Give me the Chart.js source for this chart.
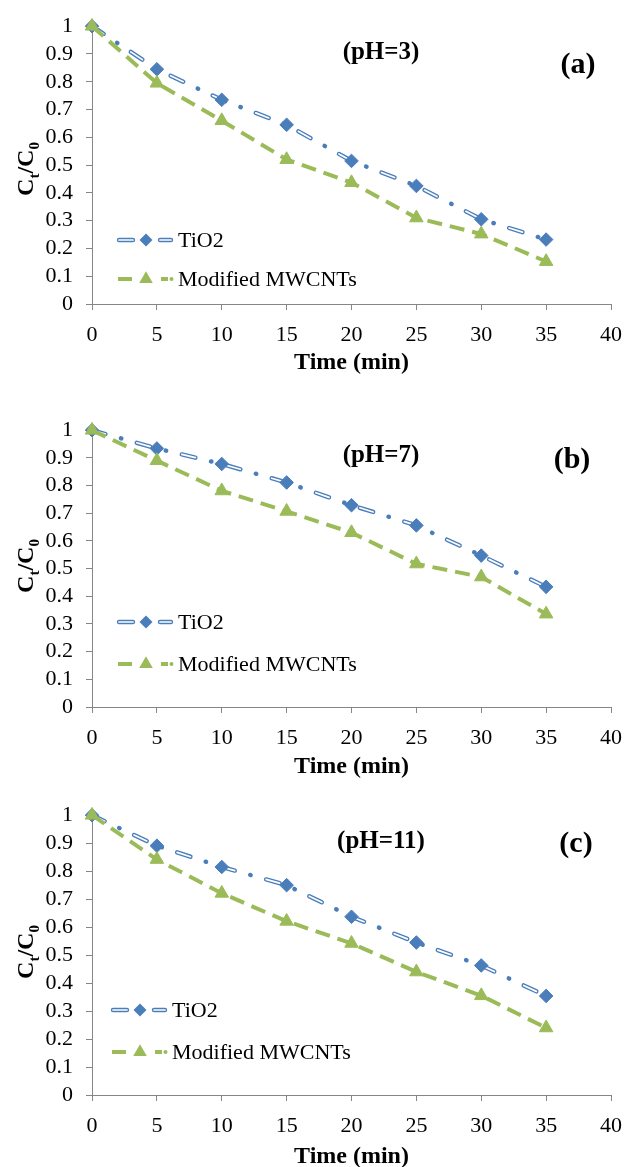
<!DOCTYPE html>
<html>
<head>
<meta charset="utf-8">
<title>Ct/C0 vs time at pH 3, 7 and 11</title>
<script src="https://cdn.jsdelivr.net/npm/chart.js@4.4.1/dist/chart.umd.min.js"></script>
<style>
  html, body { margin: 0; padding: 0; background: #fff; overflow: hidden; }
  canvas { position: absolute; left: 0; }
</style>
</head>
<body>
<canvas id="chart-a" width="634" height="390" style="top:0px"></canvas>
<canvas id="chart-b" width="634" height="390" style="top:404px"></canvas>
<canvas id="chart-c" width="634" height="395" style="top:789px"></canvas>
<script>
// Data
const times = [0, 5, 10, 15, 20, 25, 30, 35];

const tio2A = [1, 0.845, 0.735, 0.645, 0.515, 0.425, 0.305, 0.232];
const modA  = [1, 0.795, 0.66, 0.52, 0.437, 0.31, 0.252, 0.153];

const tio2B = [1, 0.934, 0.878, 0.811, 0.729, 0.656, 0.547, 0.434];
const modB  = [1, 0.89, 0.781, 0.707, 0.63, 0.517, 0.47, 0.336];

const tio2C = [1, 0.891, 0.815, 0.75, 0.637, 0.545, 0.463, 0.354];
const modC  = [1, 0.842, 0.721, 0.621, 0.542, 0.44, 0.355, 0.24];

const xTickLabels = ['0', '5', '10', '15', '20', '25', '30', '35', '40'];
const yTickLabels = ['0', '0.1', '0.2', '0.3', '0.4', '0.5', '0.6', '0.7', '0.8', '0.9', '1'];
const seriesNames = ['TiO2', 'Modified MWCNTs'];
const phLabels = ['(pH=3)', '(pH=7)', '(pH=11)'];
const panelTags = ['(a)', '(b)', '(c)'];

// Styles
const BLUE = '#4a7ebb';
const GREEN = '#9bbb59';
const AXIS = '#868686';
const FONT = '"Liberation Serif", "Times New Roman", serif';

// Panel layout (pixels inside each canvas)
const panels = [
  { id: 'chart-a', tio2: tio2A, mod: modA, ph: phLabels[0], tag: panelTags[0],
    plotH: 282, yTitleY: 169, legendX: 118, legendY: [240, 279], phY: 53, tagX: 578, tagY: 65 },
  { id: 'chart-b', tio2: tio2B, mod: modB, ph: phLabels[1], tag: panelTags[1],
    plotH: 281, yTitleY: 162, legendX: 118, legendY: [218, 260], phY: 52, tagX: 572, tagY: 56 },
  { id: 'chart-c', tio2: tio2C, mod: modC, ph: phLabels[2], tag: panelTags[2],
    plotH: 284, yTitleY: 163, legendX: 112, legendY: [221, 263], phY: 53, tagX: 576, tagY: 55 }
];

// Blue "hollow" dash: wide blue stroke with a thin white core
function hollowDash(ctx, x1, x2, y) {
  ctx.lineCap = 'round';
  ctx.strokeStyle = BLUE;
  ctx.lineWidth = 4.4;
  ctx.beginPath(); ctx.moveTo(x1, y); ctx.lineTo(x2, y); ctx.stroke();
  ctx.strokeStyle = '#fff';
  ctx.lineWidth = 1.7;
  ctx.beginPath(); ctx.moveTo(x1, y); ctx.lineTo(x2, y); ctx.stroke();
}

function greenDash(ctx, x1, x2, y) {
  ctx.lineCap = 'butt';
  ctx.strokeStyle = GREEN;
  ctx.lineWidth = 4;
  ctx.beginPath(); ctx.moveTo(x1, y); ctx.lineTo(x2, y); ctx.stroke();
}

// "Ct/C0" with subscripts, rotated
function drawYTitle(ctx, cx, cy, size) {
  const main = `bold ${size}px ${FONT}`;
  const sub = `bold ${Math.round(size * 0.62)}px ${FONT}`;
  const parts = [['C', main, 0], ['t', sub, 0.26], ['/C', main, 0], ['0', sub, 0.26]];
  let total = 0;
  parts.forEach(p => { ctx.font = p[1]; total += ctx.measureText(p[0]).width; });
  ctx.save();
  ctx.translate(cx, cy);
  ctx.rotate(-Math.PI / 2);
  ctx.fillStyle = '#000';
  ctx.textBaseline = 'alphabetic';
  ctx.textAlign = 'left';
  let x = -total / 2;
  parts.forEach(p => {
    ctx.font = p[1];
    ctx.fillText(p[0], x, p[2] * size);
    x += ctx.measureText(p[0]).width;
  });
  ctx.restore();
}

const decorPlugin = {
  id: 'decor',
  afterDraw(chart, args, opts) {
    const ctx = chart.ctx;
    const p = opts.panel;
    ctx.save();

    drawYTitle(ctx, 33, p.yTitleY, 24);

    // annotations
    ctx.fillStyle = '#000';
    ctx.textAlign = 'center';
    ctx.textBaseline = 'middle';
    ctx.font = `bold 25px ${FONT}`;
    ctx.fillText(p.ph, 381, p.phY);
    ctx.font = `bold 30px ${FONT}`;
    ctx.fillText(p.tag, p.tagX, p.tagY);

    // legend
    const lx = p.legendX;
    const [y1, y2] = p.legendY;
    hollowDash(ctx, lx + 1, lx + 15, y1);
    hollowDash(ctx, lx + 42, lx + 53, y1);
    ctx.fillStyle = BLUE;
    ctx.beginPath();
    ctx.moveTo(lx + 28, y1 - 6.5); ctx.lineTo(lx + 34.5, y1);
    ctx.lineTo(lx + 28, y1 + 6.5); ctx.lineTo(lx + 21.5, y1);
    ctx.closePath(); ctx.fill();

    greenDash(ctx, lx, lx + 14, y2);
    greenDash(ctx, lx + 43, lx + 50, y2);
    ctx.fillStyle = GREEN;
    ctx.beginPath(); ctx.arc(lx + 53.5, y2, 2, 0, Math.PI * 2); ctx.fill();
    ctx.beginPath();
    ctx.moveTo(lx + 28, y2 - 7.8); ctx.lineTo(lx + 34.8, y2 + 3.9);
    ctx.lineTo(lx + 21.2, y2 + 3.9); ctx.closePath(); ctx.fill();

    ctx.fillStyle = '#000';
    ctx.textAlign = 'left';
    ctx.textBaseline = 'middle';
    ctx.font = `22px ${FONT}`;
    ctx.fillText(seriesNames[0], lx + 60, y1 + 1);
    ctx.fillText(seriesNames[1], lx + 60, y2 + 1);
    ctx.restore();
  }
};

function xy(values) {
  return times.map((t, i) => ({ x: t, y: values[i] }));
}

function makeChart(p) {
  const canvas = document.getElementById(p.id);
  const xHeight = canvas.height - 22 - p.plotH;

  return new Chart(canvas, {
    type: 'line',
    data: {
      datasets: [
        // green series, on top
        {
          label: seriesNames[1],
          data: xy(p.mod),
          borderColor: GREEN,
          borderWidth: 4,
          borderDash: [15, 8],
          pointStyle: 'triangle',
          pointRadius: 7.8,
          pointBackgroundColor: GREEN,
          pointBorderColor: GREEN,
          pointBorderWidth: 1,
          tension: 0,
          clip: false,
          order: 0
        },
        // blue markers
        {
          label: seriesNames[0],
          data: xy(p.tio2),
          showLine: false,
          pointStyle: 'rectRot',
          pointRadius: 6.8,
          pointBackgroundColor: BLUE,
          pointBorderColor: BLUE,
          pointBorderWidth: 1,
          clip: false,
          order: 1
        },
        // white core of the hollow dashes
        {
          label: seriesNames[0] + ' core',
          data: xy(p.tio2),
          borderColor: '#ffffff',
          borderWidth: 1.7,
          borderCapStyle: 'round',
          borderDash: [14, 32.5],
          pointRadius: 0,
          tension: 0,
          clip: false,
          order: 2
        },
        // blue long-dash-dot line
        {
          label: seriesNames[0] + ' line',
          data: xy(p.tio2),
          borderColor: BLUE,
          borderWidth: 4.4,
          borderCapStyle: 'round',
          borderDash: [14, 16, 0.5, 16],
          pointRadius: 0,
          tension: 0,
          clip: false,
          order: 3
        }
      ]
    },
    options: {
      responsive: false,
      animation: false,
      devicePixelRatio: 1,
      layout: { padding: { top: 22, left: 0, right: 14, bottom: 0 } },
      plugins: {
        legend: { display: false },
        tooltip: { enabled: false },
        decor: { panel: p }
      },
      scales: {
        x: {
          type: 'linear',
          min: 0,
          max: 40,
          afterFit(s) { s.height = xHeight; },
          ticks: {
            stepSize: 5,
            padding: 12,
            maxRotation: 0,
            autoSkip: false,
            color: '#000',
            font: { family: FONT, size: 22 },
            callback: (v, i) => xTickLabels[i]
          },
          grid: { drawOnChartArea: false, tickLength: 6, color: AXIS },
          border: { color: AXIS, width: 1 },
          title: {
            display: true,
            text: 'Time (min)',
            color: '#000',
            font: { family: FONT, size: 24, weight: 'bold' },
            padding: { top: 0, bottom: 13 }
          }
        },
        y: {
          type: 'linear',
          min: 0,
          max: 1,
          afterFit(s) { s.width = 92; },
          ticks: {
            stepSize: 0.1,
            padding: 13,
            autoSkip: false,
            color: '#000',
            font: { family: FONT, size: 22 },
            callback: (v, i) => yTickLabels[i]
          },
          grid: { drawOnChartArea: false, tickLength: 6, color: AXIS },
          border: { color: AXIS, width: 1 }
        }
      }
    },
    plugins: [decorPlugin]
  });
}

panels.forEach(makeChart);
</script>
</body>
</html>
